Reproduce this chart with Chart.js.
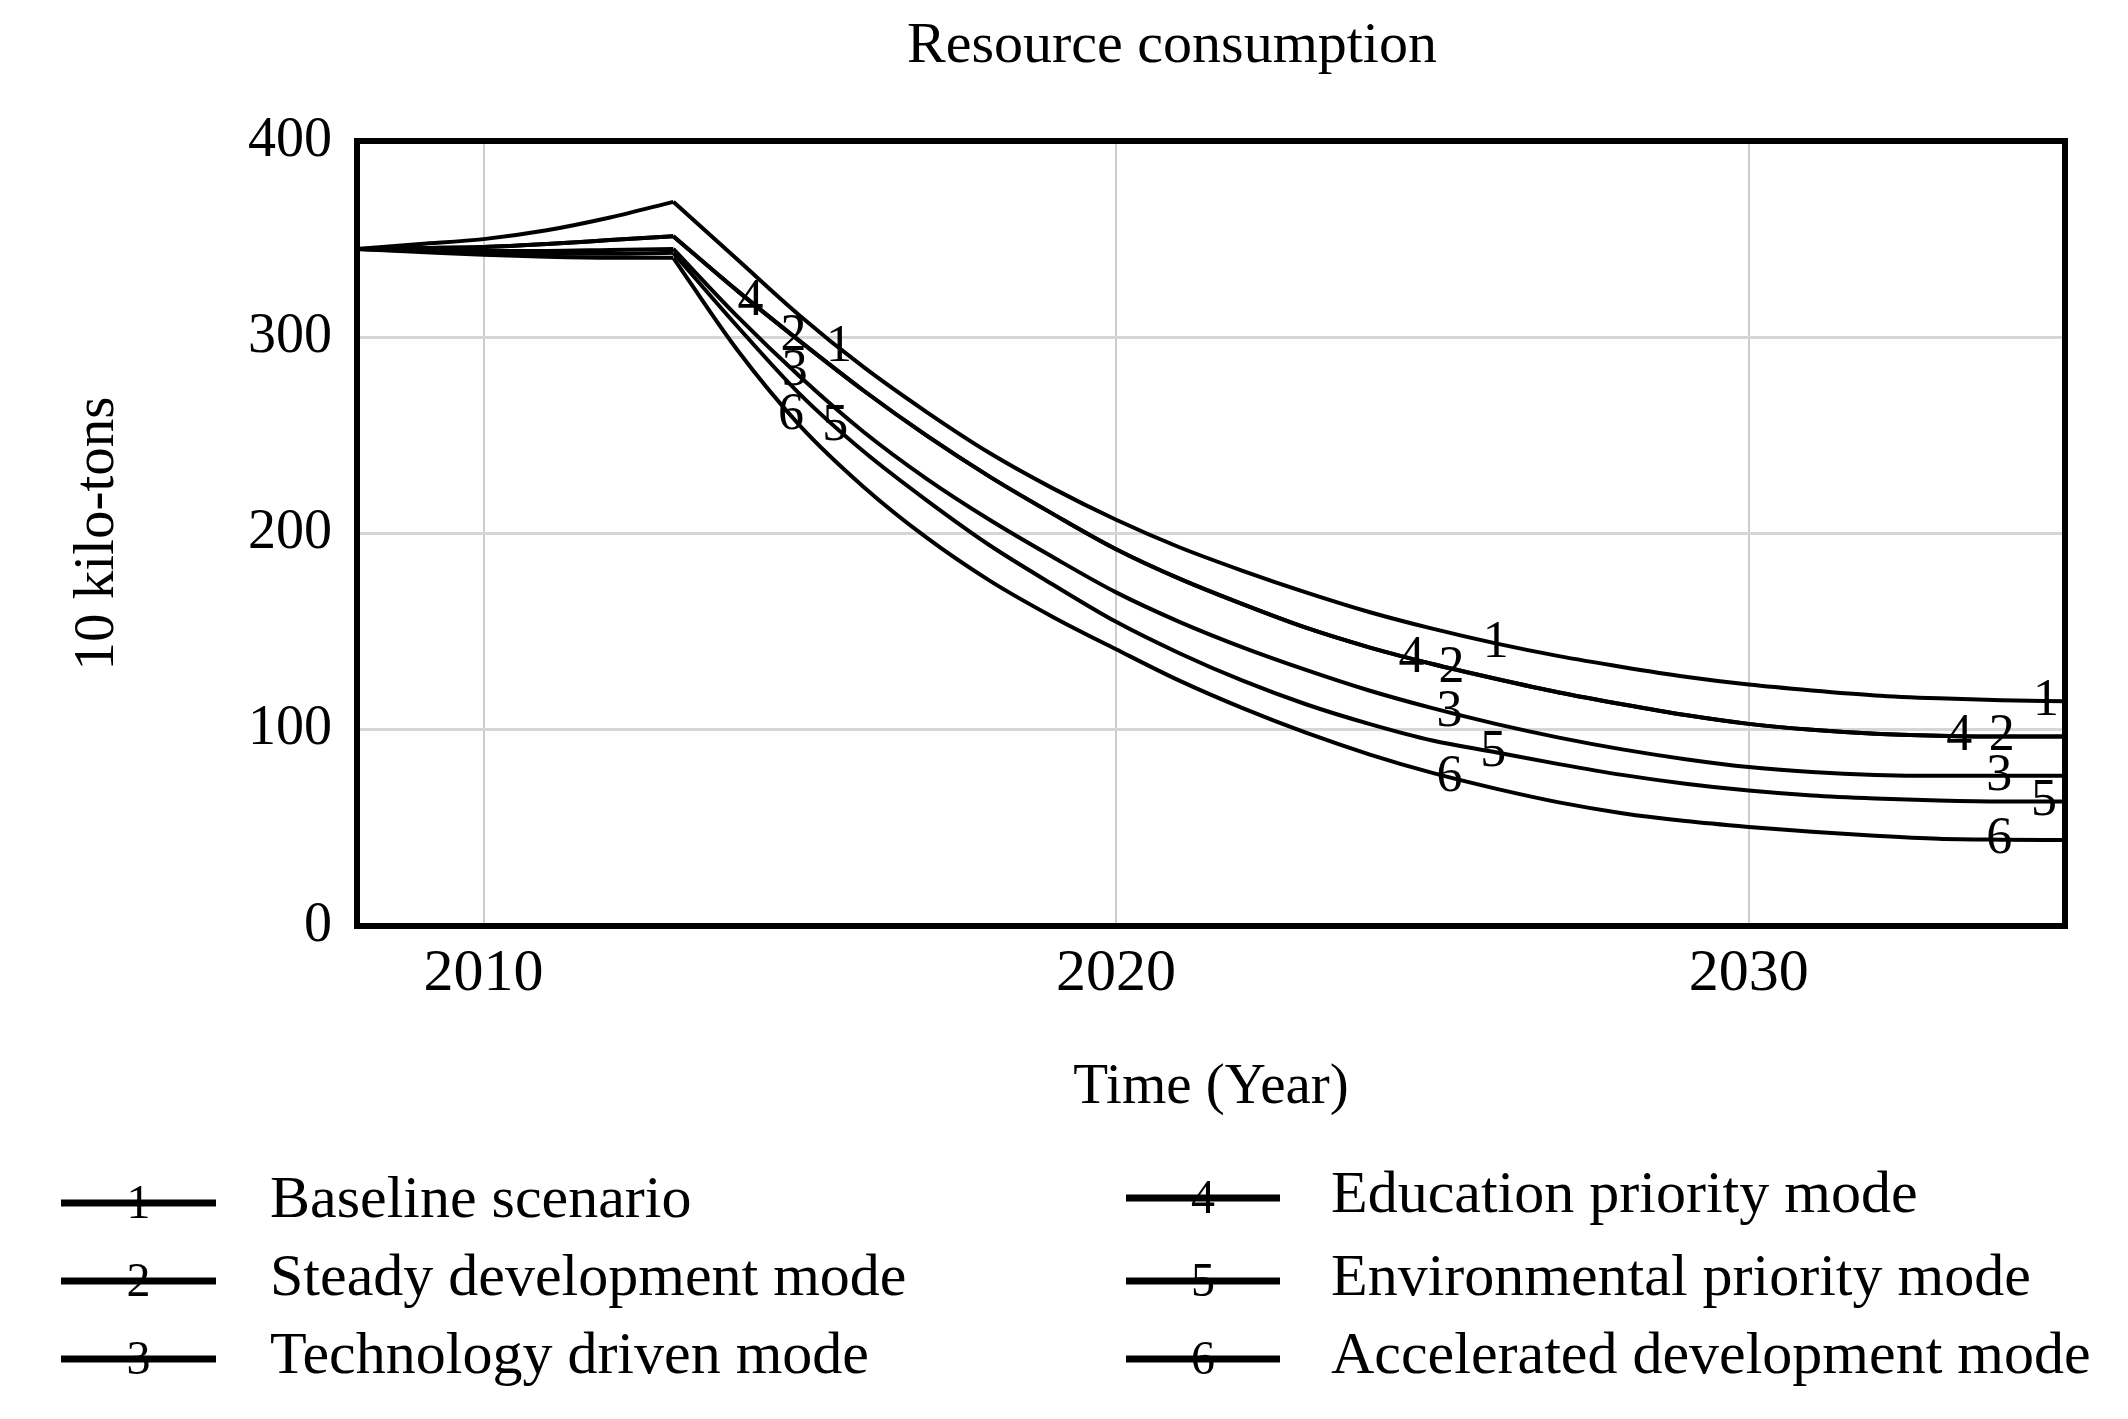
<!DOCTYPE html>
<html>
<head>
<meta charset="utf-8">
<script src="https://cdn.jsdelivr.net/npm/chart.js@4.4.1/dist/chart.umd.min.js"></script>
<style>
html,body{margin:0;padding:0;background:#fff;}
canvas{display:block;}
</style>
</head>
<body>
<canvas id="c" width="2128" height="1419"></canvas>
<script>
// ---------------- DATA ----------------
const years = [2008,2009,2010,2011,2012,2013,2014,2015,2016,2017,2018,2019,2020,2021,2022,2023,2024,2025,2026,2027,2028,2029,2030,2031,2032,2033,2034,2035];
const baselineScenario      = [345,347.5,350,354.5,361,369,340,311,285,262,241,223,207,193,181,170,160,151.5,144,137.5,132,127,123,120,117.5,116,115,114.5];
const steadyDevelopment     = [345,345.5,346,347.5,349.5,351.5,324,298,273,250,229,210,192,177,164,152,142,133.5,126,119,113,107.5,103,100,98,97,96.5,96.5];
const technologyDriven      = [345,344.5,344,344,344.5,345,311,280,252,228,207,188,170,155,142,130.5,120,111,103,96,90,85,81,78.5,77,76.5,76.5,76.5];
const educationPriority     = [345,345.5,346,347.5,349.5,351.5,324,298,273,250,229,210,192,177,164,152,142,133.5,126,119,113,107.5,103,100,98,97,96.5,96.5];
const environmentalPriority = [345,344,343,342.5,342.5,343,306,271,242,217,194,174,155,139,125,113,103,94.5,88.5,82.5,77,72.5,69,66.5,65,64,63.5,63.5];
const acceleratedDevelopment= [345,343.5,342,341,340.5,340.5,294,255,224,198,176,157.5,141,125,111,98.5,87.5,78,70,63,57.5,53.5,50.5,48,46,44.5,44,43.8];

const seriesNames = ['Baseline scenario','Steady development mode','Technology driven mode','Education priority mode','Environmental priority mode','Accelerated development mode'];
const seriesNumbers = ['1','2','3','4','5','6'];
const seriesValues = [baselineScenario, steadyDevelopment, technologyDriven, educationPriority, environmentalPriority, acceleratedDevelopment];
const policyChangeYear = 2013;

const xTickValues = [2010, 2020, 2030];
const yTickValues = [0, 100, 200, 300, 400];
const chartTitle = 'Resource consumption';
const xAxisTitle = 'Time (Year)';
const yAxisTitle = '10 kilo-tons';

// -------------- PRESENTATION --------------
const FONT = '"Liberation Serif", "Times New Roman", serif';
// years along each curve where its number marker sits
const markerYears = [
  [2015.62, 2026.0, 2034.7],
  [2014.9, 2025.3, 2034.0],
  [2014.92, 2025.27, 2033.96],
  [2014.22, 2024.67, 2033.33],
  [2015.56, 2025.96, 2034.67],
  [2014.86, 2025.27, 2033.96]
];

const splitIdx = years.indexOf(policyChangeYear);
const datasets = [];
seriesValues.forEach((vals, i) => {
  const pts = years.map((y, k) => ({x: y, y: vals[k]}));
  const common = {borderColor: '#000', borderWidth: 4, pointRadius: 0, cubicInterpolationMode: 'monotone', fill: false};
  datasets.push(Object.assign({label: seriesNames[i], data: pts.slice(0, splitIdx + 1)}, common));
  datasets.push(Object.assign({label: seriesNames[i] + ' ', data: pts.slice(splitIdx)}, common));
});

function valueAt(vals, yr) {
  for (let k = 0; k < years.length - 1; k++) {
    if (yr >= years[k] && yr <= years[k + 1]) {
      const t = (yr - years[k]) / (years[k + 1] - years[k]);
      return vals[k] + t * (vals[k + 1] - vals[k]);
    }
  }
  return vals[vals.length - 1];
}

const framePlugin = {
  id: 'frame',
  afterDatasetsDraw(chart) {
    const {ctx, chartArea: a} = chart;
    ctx.save();
    ctx.strokeStyle = '#000';
    ctx.lineWidth = 6;
    ctx.strokeRect(a.left, a.top, a.right - a.left, a.bottom - a.top);
    ctx.restore();
  }
};

const markerPlugin = {
  id: 'markers',
  afterDatasetsDraw(chart) {
    const {ctx} = chart;
    const xs = chart.scales.x, ys = chart.scales.y;
    ctx.save();
    ctx.fillStyle = '#000';
    ctx.font = '52px ' + FONT;
    ctx.textAlign = 'center';
    ctx.textBaseline = 'middle';
    seriesValues.forEach((vals, i) => {
      markerYears[i].forEach(yr => {
        const px = xs.getPixelForValue(yr);
        const py = ys.getPixelForValue(valueAt(vals, yr));
        ctx.fillText(seriesNumbers[i], px, py);
      });
    });
    ctx.restore();
  }
};

const titlePlugin = {
  id: 'maintitle',
  afterDraw(chart) {
    const {ctx} = chart;
    ctx.save();
    ctx.fillStyle = '#000';
    ctx.font = '58px ' + FONT;
    ctx.textAlign = 'center';
    ctx.textBaseline = 'alphabetic';
    ctx.fillText(chartTitle, 1172, 62);
    ctx.restore();
  }
};

const legendPlugin = {
  id: 'sidelegend',
  afterDraw(chart) {
    const {ctx} = chart;
    const rowsY = [1203, 1281, 1359];
    const cols = [{x0: 61, x1: 216, tx: 270}, {x0: 1126, x1: 1280, tx: 1331}];
    ctx.save();
    seriesNames.forEach((name, i) => {
      const c = cols[Math.floor(i / 3)];
      const y = rowsY[i % 3] - (i === 3 ? 5 : 0);
      ctx.strokeStyle = '#000';
      ctx.lineWidth = 7;
      ctx.beginPath();
      ctx.moveTo(c.x0, y);
      ctx.lineTo(c.x1, y);
      ctx.stroke();
      ctx.fillStyle = '#000';
      ctx.font = '48px ' + FONT;
      ctx.textAlign = 'center';
      ctx.textBaseline = 'middle';
      ctx.fillText(seriesNumbers[i], (c.x0 + c.x1) / 2, y + 2);
      ctx.font = '60px ' + FONT;
      ctx.textAlign = 'left';
      ctx.fillText(name, c.tx, y - 2);
    });
    ctx.restore();
  }
};

new Chart(document.getElementById('c'), {
  type: 'line',
  data: {datasets},
  plugins: [framePlugin, markerPlugin, titlePlugin, legendPlugin],
  options: {
    responsive: false,
    animation: false,
    devicePixelRatio: 1,
    layout: {padding: {left: 0, top: 141, right: 63, bottom: 279}},
    plugins: {legend: {display: false}, title: {display: false}, tooltip: {enabled: false}},
    scales: {
      x: {
        type: 'linear', min: 2008, max: 2035,
        afterBuildTicks: s => { s.ticks = xTickValues.map(v => ({value: v})); },
        afterFit: s => { s.height = 214; },
        ticks: {callback: v => String(v), font: {family: FONT, size: 60}, color: '#000', padding: 12, maxRotation: 0, autoSkip: false},
        grid: {color: '#cccccc', lineWidth: 2, drawTicks: false},
        border: {display: false},
        title: {display: true, text: xAxisTitle, font: {family: FONT, size: 57}, color: '#000', padding: {top: 0, bottom: 18}}
      },
      y: {
        type: 'linear', min: 0, max: 400,
        afterBuildTicks: s => { s.ticks = yTickValues.map(v => ({value: v})); },
        afterFit: s => { s.width = 357; },
        ticks: {callback: v => String(v), font: {family: FONT, size: 56}, color: '#000', padding: 25},
        grid: {color: '#d6d6d6', lineWidth: 3, drawTicks: false},
        border: {display: false},
        title: {display: true, text: yAxisTitle, font: {family: FONT, size: 57}, color: '#000', padding: {top: 64, bottom: 0}}
      }
    }
  }
});
</script>
</body>
</html>
